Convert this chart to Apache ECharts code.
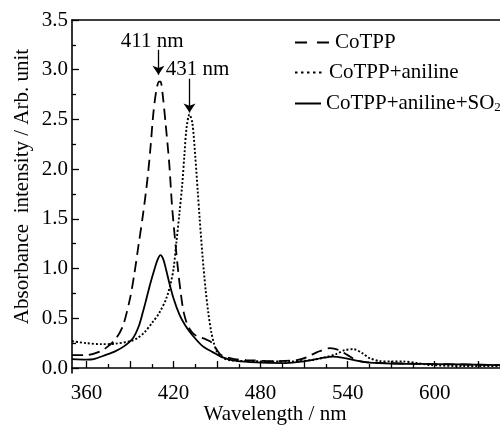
<!DOCTYPE html>
<html lang="en">
<head>
  <meta charset="UTF-8">
  <title>CoTPP absorbance</title>
  <style type="text/css">
    html, body { margin: 0; padding: 0; background: #fff; }
    #main { width: 500px; height: 425px; }
  </style>
</head>
<body>
  <div id="main"></div>
  <script type="text/javascript" src="https://cdn.jsdelivr.net/npm/echarts@6/dist/echarts.min.js"></script>
  <script type="text/javascript">
    // spectra (wavelength nm, absorbance)
    var cotppX = [350, 360, 370, 375, 380, 385, 390, 393, 396, 399, 402, 404, 406, 408, 410, 411, 412.5, 414.5, 417, 419, 421.5, 423, 425, 427, 430, 434, 438, 442, 446, 449, 452, 456, 462, 470, 490, 505, 512, 519, 528, 534, 540, 546, 552, 565, 600, 645]
    var cotppY = [0.13, 0.13, 0.17, 0.22, 0.29, 0.42, 0.70, 0.95, 1.25, 1.55, 1.90, 2.20, 2.55, 2.78, 2.88, 2.88, 2.75, 2.46, 2.06, 1.62, 1.22, 1.00, 0.75, 0.56, 0.42, 0.34, 0.31, 0.29, 0.26, 0.20, 0.14, 0.11, 0.09, 0.08, 0.07, 0.08, 0.11, 0.16, 0.20, 0.18, 0.13, 0.08, 0.06, 0.05, 0.04, 0.03]

    var anilineX = [350, 360, 370, 380, 390, 395, 400, 405, 410, 415, 418, 420, 422, 424, 426, 427.5, 429, 431, 433, 435, 436.6, 438, 440, 442, 444, 446, 448, 450, 453, 458, 470, 500, 515, 525, 532, 538, 544, 550, 555, 562, 570, 578, 588, 597, 620, 645]
    var anilineY = [0.27, 0.25, 0.24, 0.245, 0.27, 0.30, 0.36, 0.45, 0.55, 0.70, 0.85, 1.00, 1.27, 1.55, 1.85, 2.15, 2.42, 2.55, 2.46, 2.12, 1.79, 1.50, 1.12, 0.80, 0.55, 0.36, 0.24, 0.16, 0.11, 0.08, 0.07, 0.065, 0.08, 0.11, 0.14, 0.18, 0.19, 0.15, 0.10, 0.07, 0.065, 0.065, 0.05, 0.03, 0.02, 0.02]

    var so2X = [350, 360, 365, 373, 380, 386, 392, 396, 399, 401, 404, 407, 409, 411, 413, 415, 417, 420, 424, 428, 433, 440, 447, 452, 460, 473, 496, 505, 515, 522, 530, 538, 546, 555, 570, 600, 645]
    var so2Y = [0.09, 0.085, 0.09, 0.13, 0.17, 0.22, 0.30, 0.42, 0.57, 0.68, 0.85, 1.00, 1.09, 1.135, 1.09, 0.98, 0.86, 0.70, 0.54, 0.43, 0.33, 0.22, 0.16, 0.12, 0.08, 0.06, 0.05, 0.06, 0.08, 0.10, 0.115, 0.10, 0.075, 0.055, 0.045, 0.04, 0.03]

    var seriesNames = ['CoTPP', 'CoTPP+aniline', 'CoTPP+aniline+SO2']
    var xLabels = [360, 420, 480, 540, 600]
    var xMajorTicks = [360, 390, 420, 450, 480, 510, 540, 570, 600, 630]
    var xMinorTicks = [375, 405, 435, 465, 495, 525, 555, 585, 615, 645]
    var yLabels = [0, 0.5, 1.0, 1.5, 2.0, 2.5, 3.0, 3.5]
    var yMinorTicks = [0.25, 0.75, 1.25, 1.75, 2.25, 2.75, 3.25]

    function pairs(xs, ys) {
      var out = []
      for (var i = 0; i < xs.length; i++) out.push([xs[i], ys[i]])
      return out
    }

    var font = '"Liberation Serif", "Times New Roman", serif'
    var fs = 21
    var myChart = echarts.init(document.getElementById('main'))

    // one legend per entry so each sample can have its own length
    function legendFor(name, top, width, dash) {
      return {
        orient: 'vertical',
        left: 294,
        top: top,
        padding: 0,
        itemWidth: width,
        itemHeight: 14,
        selectedMode: false,
        data: [name],
        itemStyle: { opacity: 0 },
        lineStyle: dash ? { type: dash } : {},
        formatter: function (n) {
          return n === 'CoTPP+aniline+SO2' ? 'CoTPP+aniline+SO{sub|2}' : n
        },
        textStyle: {
          fontFamily: font, fontSize: fs, color: '#000',
          rich: { sub: { fontFamily: font, fontSize: 13, color: '#000', verticalAlign: 'bottom', padding: [9, 0, 0, 0] } }
        }
      }
    }

    var option = {
      animation: false,
      textStyle: { fontFamily: font, color: '#000' },
      grid: { left: 72, top: 20, right: 0, bottom: 52, outerBoundsMode: 'none', containLabel: false },
      legend: [
        legendFor(seriesNames[0], 32, 35, [12, 10]),
        legendFor(seriesNames[1], 62, 29, [2.5, 3.5]),
        legendFor(seriesNames[2], 93, 26, null)
      ],
      xAxis: [{
        type: 'value', position: 'bottom', min: 350, max: 645,
        name: 'Wavelength / nm', nameLocation: 'middle', nameGap: 31, nameMoveOverlap: false,
        nameTextStyle: { fontFamily: font, fontSize: fs, color: '#000', padding: [0, 22, 0, 0] },
        axisLine: { lineStyle: { color: '#000', width: 1.6 } },
        axisTick: { inside: true, length: 7, customValues: xMajorTicks, lineStyle: { color: '#000', width: 1.3 } },
        axisLabel: { customValues: xLabels, margin: 10, fontFamily: font, fontSize: fs, color: '#000' },
        splitLine: { show: false }
      }, {
        type: 'value', position: 'bottom', min: 350, max: 645,
        axisLine: { show: false },
        axisTick: { inside: true, length: 4, customValues: xMinorTicks, lineStyle: { color: '#000', width: 1.3 } },
        axisLabel: { show: false },
        splitLine: { show: false }
      }, {
        type: 'value', position: 'top', min: 350, max: 645,
        axisLine: { lineStyle: { color: '#000', width: 1.6 } },
        axisTick: { show: false },
        axisLabel: { show: false },
        splitLine: { show: false }
      }],
      yAxis: [{
        type: 'value', position: 'left', min: -0.05, max: 3.5,
        name: 'Absorbance  intensity / Arb. unit', nameLocation: 'middle', nameGap: 39, nameMoveOverlap: false,
        nameTextStyle: { fontFamily: font, fontSize: fs, color: '#000', padding: [0, 0, 0, 20] },
        axisLine: { lineStyle: { color: '#000', width: 1.6 } },
        axisTick: { inside: true, length: 7, customValues: yLabels, lineStyle: { color: '#000', width: 1.3 } },
        axisLabel: {
          customValues: yLabels, margin: 4, fontFamily: font, fontSize: fs, color: '#000',
          formatter: function (v) { return v.toFixed(1) }
        },
        splitLine: { show: false }
      }, {
        type: 'value', position: 'left', min: -0.05, max: 3.5,
        axisLine: { show: false },
        axisTick: { inside: true, length: 4, customValues: yMinorTicks, lineStyle: { color: '#000', width: 1.3 } },
        axisLabel: { show: false },
        splitLine: { show: false }
      }],
      series: [{
        name: seriesNames[0],
        type: 'line',
        smooth: 0.3,
        symbol: 'none',
        color: '#000',
        lineStyle: { color: '#000', width: 1.8, type: [11, 6] },
        data: pairs(cotppX, cotppY),
        markLine: {
          silent: true,
          symbol: ['none', 'arrow'],
          symbolSize: 9,
          label: { show: false },
          lineStyle: { type: 'solid', color: '#000', width: 1.3 },
          data: [[{ coord: [409.6, 3.2] }, { coord: [409.6, 2.95] }]]
        },
        markPoint: {
          silent: true,
          symbol: 'circle',
          symbolSize: 0,
          label: { show: true, position: 'inside', fontFamily: font, fontSize: fs, color: '#000' },
          data: [{ coord: [405.2, 3.28], label: { formatter: '411 nm' } }]
        }
      }, {
        name: seriesNames[1],
        type: 'line',
        smooth: 0.3,
        symbol: 'none',
        color: '#000',
        lineStyle: { color: '#000', width: 1.9, type: [2, 2] },
        data: pairs(anilineX, anilineY),
        markLine: {
          silent: true,
          symbol: ['none', 'arrow'],
          symbolSize: 9,
          label: { show: false },
          lineStyle: { type: 'solid', color: '#000', width: 1.3 },
          data: [[{ coord: [431, 2.91] }, { coord: [431, 2.57] }]]
        },
        markPoint: {
          silent: true,
          symbol: 'circle',
          symbolSize: 0,
          label: { show: true, position: 'inside', fontFamily: font, fontSize: fs, color: '#000' },
          data: [{ coord: [436.6, 3.0], label: { formatter: '431 nm' } }]
        }
      }, {
        name: seriesNames[2],
        type: 'line',
        smooth: 0.3,
        symbol: 'none',
        color: '#000',
        lineStyle: { color: '#000', width: 1.8, type: 'solid' },
        data: pairs(so2X, so2Y)
      }]
    }
    myChart.setOption(option)
  </script>
</body>
</html>
